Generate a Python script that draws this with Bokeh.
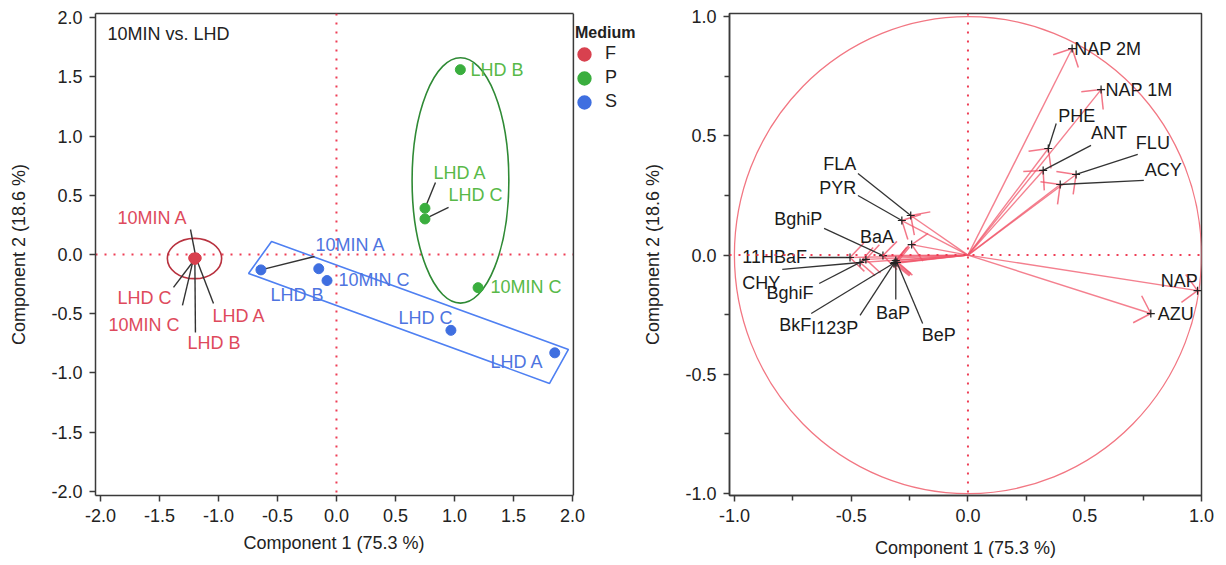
import numpy as np
from bokeh.plotting import figure
from bokeh.layouts import row
from bokeh.models import (Range1d, FixedTicker, PrintfTickFormatter, Span, Label, Title,
                          Legend, LegendItem, LinearAxis)
from bokeh.embed import file_html
from bokeh.resources import INLINE
from bokeh.core.properties import value

FONT = "Liberation Sans"

# ---------------- data: score plot (left) ----------------
MEDIA = ["F", "P", "S"]

F_LABELS = ["10MIN A", "LHD C", "10MIN C", "LHD B", "LHD A"]
F_X = [-1.19, -1.20, -1.21, -1.20, -1.19]
F_Y = [-0.03, -0.04, -0.03, -0.04, -0.03]

P_LABELS = ["LHD B", "LHD A", "LHD C", "10MIN C"]
P_X = [1.05, 0.75, 0.75, 1.20]
P_Y = [1.56, 0.39, 0.30, -0.28]

S_LABELS = ["10MIN A", "LHD B", "10MIN C", "LHD C", "LHD A"]
S_X = [-0.64, -0.15, -0.08, 0.97, 1.85]
S_Y = [-0.13, -0.12, -0.22, -0.64, -0.83]

# group outlines
ELL_X = [-1.203, 1.051]
ELL_Y = [-0.034, 0.625]
ELL_W = [0.46, 0.82]
ELL_H = [0.34, 2.07]
RECT_X = [-0.745, -0.550, 1.966, 1.806]
RECT_Y = [-0.160, 0.110, -0.801, -1.088]

# ---------------- data: loading plot (right) ----------------
VARS = ["NAP 2M", "NAP 1M", "PHE", "ANT", "FLU", "ACY", "FLA", "PYR", "BaA",
        "BghiP", "11HBaF", "CHY", "BghiF", "BkF", "I123P", "BaP", "BeP", "NAP", "AZU"]
LOAD_X = [0.446, 0.570, 0.344, 0.322, 0.463, 0.395, -0.245, -0.283, -0.241,
          -0.364, -0.505, -0.462, -0.437, -0.313, -0.317, -0.309, -0.304, 0.983, 0.783]
LOAD_Y = [0.866, 0.694, 0.447, 0.355, 0.338, 0.296, 0.166, 0.145, 0.044,
          -0.002, -0.010, -0.031, -0.018, -0.031, -0.035, -0.023, -0.031, -0.149, -0.245]

X_TICKS_L = [-2.0, -1.5, -1.0, -0.5, 0.0, 0.5, 1.0, 1.5, 2.0]
X_TICKS_R = [-1.0, -0.5, 0.0, 0.5, 1.0]
MINOR_R = [-0.75, -0.25, 0.25, 0.75]

# ---------------- layout (label placement) ----------------
# (label x, label y, leader end x or None, leader end y)
F_LAY = [(-1.856, 0.304, -1.237, 0.211), (-1.856, -0.371, -1.381, -0.278),
         (-1.932, -0.599, -1.305, -0.430), (-1.262, -0.751, -1.195, -0.658),
         (-1.050, -0.523, -1.042, -0.413)]
P_LAY = [(1.136, 1.553, None, None), (0.822, 0.692, 0.839, 0.608),
         (0.950, 0.498, 0.950, 0.397), (1.305, -0.278, None, None)]
S_LAY = [(-0.178, 0.076, -0.186, -0.017), (-0.559, -0.346, None, None),
         (0.017, -0.219, None, None), (0.526, -0.540, None, None),
         (1.305, -0.911, None, None)]
V_LAY = [(0.455, 0.866, None, None), (0.589, 0.694, None, None),
         (0.387, 0.585, 0.378, 0.552), (0.527, 0.510, 0.527, 0.460),
         (0.719, 0.468, 0.727, 0.422), (0.757, 0.355, 0.753, 0.313),
         (-0.620, 0.384, -0.471, 0.342), (-0.637, 0.283, -0.471, 0.250),
         (-0.462, 0.074, None, None), (-0.829, 0.153, -0.616, 0.112),
         (-0.966, -0.010, -0.680, -0.010), (-0.966, -0.115, -0.795, -0.060),
         (-0.863, -0.161, -0.637, -0.119), (-0.808, -0.295, -0.671, -0.245),
         (-0.671, -0.304, -0.462, -0.253), (-0.394, -0.241, -0.309, -0.186),
         (-0.198, -0.337, -0.194, -0.287), (0.826, -0.107, None, None),
         (0.813, -0.245, None, None)]

RED, GREEN, BLUE = "#d8414f", "#3aae3e", "#3f6fe0"
RED_T, GREEN_T, BLUE_T = "#de4a5c", "#58b948", "#4e74e0"
AX = "#3a3a3a"
DOT = "#ee3d55"

L_XMIN, L_XMAX = -2.042, 2.008     # visible data box of the score plot
L_PX_PER_UNIT = 118.0


def style(p, ticks, minor):
    for ax in (p.xaxis[0], p.yaxis[0]):
        ax.ticker = FixedTicker(ticks=ticks, minor_ticks=minor)
        ax.formatter = PrintfTickFormatter(format="%.1f")
        ax.axis_line_color = AX
        ax.axis_line_width = 1.5
        ax.major_tick_line_color = AX
        ax.major_tick_line_width = 1.5
        ax.major_tick_in = 0
        ax.major_tick_out = 6
        ax.minor_tick_line_color = AX
        ax.minor_tick_line_width = 1.5
        ax.minor_tick_in = 0
        ax.minor_tick_out = 5
        ax.major_label_text_font = FONT
        ax.major_label_text_font_size = "18px"
        ax.major_label_text_color = "#222222"
        ax.major_label_standoff = 7
        ax.axis_label_text_font = FONT
        ax.axis_label_text_font_size = "18px"
        ax.axis_label_text_font_style = "normal"
        ax.axis_label_text_color = "#222222"
    p.xaxis[0].axis_label_standoff = 13
    p.yaxis[0].axis_label_standoff = 19
    p.xgrid.visible = False
    p.ygrid.visible = False


def leaders(lay, xs, ys):
    x0, y0, x1, y1 = [], [], [], []
    for (lx, ly, ex, ey), px, py in zip(lay, xs, ys):
        if ex is not None:
            x0.append(px); y0.append(py); x1.append(ex); y1.append(ey)
    return x0, y0, x1, y1


# ================= left figure (score plot) =================
# the frame runs to the canvas edge so the legend can sit right of the drawn box
x_end = L_XMIN + (640 - 95) / L_PX_PER_UNIT
p1 = figure(width=640, height=565, x_range=Range1d(L_XMIN, x_end), y_range=Range1d(-2.034, 2.034),
            output_backend="svg", toolbar_location=None,
            min_border_left=95, min_border_right=0, min_border_top=13, min_border_bottom=70,
            y_axis_label="Component 2 (18.6 %)")
style(p1, X_TICKS_L, [])
p1.outline_line_color = None
p1.xaxis[0].bounds = (L_XMIN, L_XMAX)
top = LinearAxis(bounds=(L_XMIN, L_XMAX), axis_line_color=AX, axis_line_width=1.5,
                 major_tick_line_color=None, minor_tick_line_color=None,
                 major_label_text_font_size="0px", major_label_standoff=0)
top.ticker = FixedTicker(ticks=[])
p1.add_layout(top, "above")
p1.add_layout(Span(location=L_XMAX, dimension="height", line_color=AX, line_width=1.5))
p1.add_layout(Span(location=0, dimension="height", line_color=DOT, line_width=2, line_dash="2 7"))
p1.segment(x0=[L_XMIN], y0=[0], x1=[L_XMAX], y1=[0], line_color=DOT, line_width=2, line_dash="2 7")

# x-axis title centred under the drawn box
xtitle = Title(text="Component 1 (75.3 %)", align="left", offset=148, standoff=12,
               text_font=FONT, text_font_size="18px", text_font_style="normal",
               text_color="#222222")
p1.add_layout(xtitle, "below")

p1.ellipse(x=ELL_X[:1], y=ELL_Y[:1], width=ELL_W[:1], height=ELL_H[:1], fill_alpha=0,
           line_color="#b8323f", line_width=1.6)
p1.ellipse(x=ELL_X[1:], y=ELL_Y[1:], width=ELL_W[1:], height=ELL_H[1:], fill_alpha=0,
           line_color="#2f8a35", line_width=1.6)
p1.patch(RECT_X, RECT_Y, fill_alpha=0, line_color="#4f80f2", line_width=1.6)

for lay, xs, ys in ((F_LAY, F_X, F_Y), (P_LAY, P_X, P_Y), (S_LAY, S_X, S_Y)):
    x0, y0, x1, y1 = leaders(lay, xs, ys)
    p1.segment(x0=x0, y0=y0, x1=x1, y1=y1, line_color="#333333", line_width=1.4)

p1.scatter(F_X, F_Y, size=10, color=RED)
p1.scatter(P_X, P_Y, size=10, color=GREEN)
p1.scatter(S_X, S_Y, size=10, color=BLUE)

for lay, labels, col in ((F_LAY, F_LABELS, RED_T), (P_LAY, P_LABELS, GREEN_T), (S_LAY, S_LABELS, BLUE_T)):
    p1.text(x=[l[0] for l in lay], y=[l[1] for l in lay], text=labels,
            text_font=value(FONT), text_font_size="18px", text_color=col,
            text_baseline="middle", text_align="left")

p1.add_layout(Label(x=-1.94, y=1.865, text="10MIN vs. LHD", text_font=FONT,
                    text_font_size="18px", text_color="#222222", text_baseline="middle"))

items = []
for name, col in zip(MEDIA, (RED, GREEN, BLUE)):
    # legend swatch renderer, kept outside the visible range
    r = p1.ellipse(x=[-50], y=[-50], width=[0.1], height=[0.1], fill_color=col, line_color=None)
    items.append(LegendItem(label=name, renderers=[r]))
legend = Legend(items=items, title="Medium", location=(480, 383), padding=0, margin=0, spacing=3,
                glyph_width=18, glyph_height=18, label_height=21, label_standoff=12,
                title_standoff=1, title_text_font=FONT, title_text_font_style="bold",
                title_text_font_size="16px", title_text_color="#222222",
                label_text_font=FONT, label_text_font_size="18px", label_text_color="#222222",
                border_line_alpha=0, background_fill_alpha=0)
p1.add_layout(legend)

# ================= right figure (loading plot) =================
p2 = figure(width=586, height=565, x_range=Range1d(-1.021, 1.0), y_range=Range1d(-1.008, 1.013),
            output_backend="svg", toolbar_location=None,
            min_border_left=87, min_border_right=25, min_border_top=13, min_border_bottom=70,
            x_axis_label="Component 1 (75.3 %)", y_axis_label="Component 2 (18.6 %)")
style(p2, X_TICKS_R, MINOR_R)
p2.outline_line_color = AX
p2.outline_line_width = 1.5
p2.add_layout(Span(location=0, dimension="width", line_color=DOT, line_width=2, line_dash="2 7"))
p2.add_layout(Span(location=0, dimension="height", line_color=DOT, line_width=2, line_dash="2 7"))

p2.ellipse(x=[0], y=[0], width=[2], height=[2], fill_alpha=0, line_color="#f27783", line_width=1.3)

lx = np.array(LOAD_X)
ly = np.array(LOAD_Y)
p2.segment(x0=np.zeros_like(lx), y0=np.zeros_like(ly), x1=lx, y1=ly,
           line_color="#f0556a", line_alpha=0.75, line_width=1.4)

# open arrow heads (45 degree half angle, ~20 px)
SX, SY = 234.5, 238.5
dx, dy = lx * SX, ly * SY
n = np.hypot(dx, dy)
bx, by = -dx / n, -dy / n
hx0, hy0, hx1, hy1 = [], [], [], []
for ang in (np.pi / 4, -np.pi / 4):
    rx = bx * np.cos(ang) - by * np.sin(ang)
    ry = bx * np.sin(ang) + by * np.cos(ang)
    hx0 += list(lx); hy0 += list(ly)
    hx1 += list(lx + rx * 20 / SX); hy1 += list(ly + ry * 20 / SY)
p2.segment(x0=hx0, y0=hy0, x1=hx1, y1=hy1, line_color="#f0556a", line_alpha=0.8, line_width=1.5)

x0, y0, x1, y1 = leaders(V_LAY, LOAD_X, LOAD_Y)
p2.segment(x0=x0, y0=y0, x1=x1, y1=y1, line_color="#333333", line_width=1.3)
p2.scatter(LOAD_X, LOAD_Y, marker="cross", size=8, line_color="#222222", line_width=1.2)

p2.text(x=[l[0] for l in V_LAY], y=[l[1] for l in V_LAY], text=VARS,
        text_font=value(FONT), text_font_size="18px", text_color="#1a1a1a",
        text_baseline="middle", text_align="left")

layout = row(p1, p2)
open("out.html", "w").write(file_html(layout, INLINE))
